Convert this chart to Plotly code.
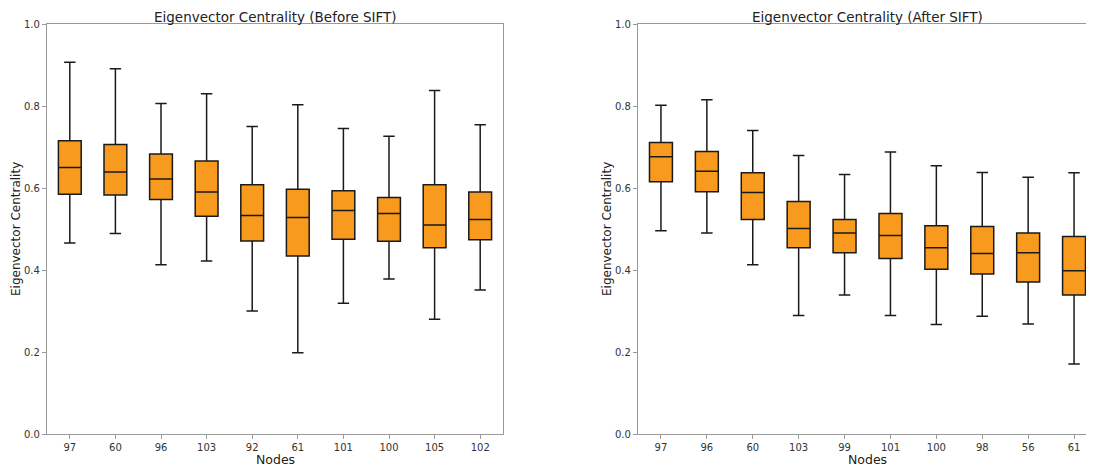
import plotly.graph_objects as go

# ---- data ----
nodes_before = ["97", "60", "96", "103", "92", "61", "101", "100", "105", "102"]
before_low = [0.466, 0.489, 0.413, 0.422, 0.300, 0.198, 0.319, 0.378, 0.280, 0.351]
before_q1 = [0.585, 0.583, 0.572, 0.531, 0.471, 0.434, 0.475, 0.470, 0.454, 0.474]
before_med = [0.650, 0.639, 0.622, 0.590, 0.533, 0.528, 0.545, 0.538, 0.510, 0.523]
before_q3 = [0.715, 0.706, 0.683, 0.666, 0.608, 0.597, 0.593, 0.577, 0.608, 0.590]
before_high = [0.907, 0.891, 0.806, 0.830, 0.750, 0.803, 0.745, 0.726, 0.838, 0.754]

nodes_after = ["97", "96", "60", "103", "99", "101", "100", "98", "56", "61"]
after_low = [0.496, 0.490, 0.413, 0.289, 0.339, 0.289, 0.267, 0.287, 0.268, 0.171]
after_q1 = [0.615, 0.591, 0.523, 0.454, 0.442, 0.428, 0.402, 0.390, 0.371, 0.339]
after_med = [0.676, 0.641, 0.589, 0.501, 0.490, 0.484, 0.454, 0.440, 0.442, 0.398]
after_q3 = [0.711, 0.689, 0.637, 0.567, 0.523, 0.538, 0.508, 0.506, 0.490, 0.482]
after_high = [0.802, 0.815, 0.740, 0.679, 0.633, 0.688, 0.654, 0.638, 0.626, 0.637]

titles = ["Eigenvector Centrality (Before SIFT)", "Eigenvector Centrality (After SIFT)"]
x_label = "Nodes"
y_label = "Eigenvector Centrality"

FILL = "#F79A1E"
EDGE = "#1a1a1a"
SPINE = "#9a9a9a"
TXT = "#333333"
FONT = "DejaVu Sans"

fig = go.Figure()
fig.add_trace(go.Box(
    x=nodes_before, q1=before_q1, median=before_med, q3=before_q3,
    lowerfence=before_low, upperfence=before_high,
    fillcolor=FILL, line=dict(color=EDGE, width=1.5),
    width=0.5, whiskerwidth=0.5, boxpoints=False,
    xaxis="x", yaxis="y", showlegend=False,
))
fig.add_trace(go.Box(
    x=nodes_after, q1=after_q1, median=after_med, q3=after_q3,
    lowerfence=after_low, upperfence=after_high,
    fillcolor=FILL, line=dict(color=EDGE, width=1.5),
    width=0.5, whiskerwidth=0.5, boxpoints=False,
    xaxis="x2", yaxis="y2", showlegend=False,
))

# page body adds an 8px offset; size the figure to fill the rest of the window
W, H = 1086, 462
ml, mr, mt, mb = 39, 0, 16, 36
pw = W - ml - mr
d1 = [0, 456 / pw]
d2 = [591 / pw, 1.0]

common_x = dict(type="category", showline=True, linecolor=SPINE, linewidth=1.3,
                ticks="outside", ticklen=4, tickcolor=SPINE, showgrid=False,
                tickfont=dict(family=FONT, size=10, color=TXT), zeroline=False)
common_y = dict(range=[0, 1], dtick=0.2, tickformat=".1f", showline=True,
                linecolor=SPINE, linewidth=1.3, ticks="outside", ticklen=4,
                tickcolor=SPINE, showgrid=False, zeroline=False,
                tickfont=dict(family=FONT, size=10, color=TXT))

# right panel extends slightly beyond the visible image edge
ext = 3 / 45.9

fig.update_layout(
    width=W, height=H,
    margin=dict(l=ml, r=mr, t=mt, b=mb),
    plot_bgcolor="white", paper_bgcolor="white",
    xaxis=dict(domain=d1, range=[-0.5, 9.5], mirror=True, anchor="y", **common_x),
    yaxis=dict(domain=[0, 1], mirror=True, anchor="x", **common_y),
    xaxis2=dict(domain=d2, range=[-0.5, 9.5 - ext], mirror=True, anchor="y2", **common_x),
    yaxis2=dict(domain=[0, 1], mirror=False, anchor="x2", **common_y),
    font=dict(family=FONT, color=TXT),
)

ann = []
for i, (d, t) in enumerate(zip([d1, d2], titles)):
    cx = (d[0] + d[1]) / 2 if i == 0 else d[0] + (459 / 2) / pw
    ann.append(dict(text=t, xref="paper", yref="paper", x=cx, y=1, yshift=16,
                    xanchor="center", yanchor="top", showarrow=False, borderpad=0,
                    font=dict(family=FONT, size=13.5, color="#222222")))
    ann.append(dict(text=x_label, xref="paper", yref="paper", x=cx, y=0, yshift=-25,
                    xanchor="center", yanchor="middle", showarrow=False,
                    font=dict(family=FONT, size=12.5, color="#222222")))
    ann.append(dict(text=y_label, xref="paper", yref="paper", x=d[0], y=0.5,
                    xshift=-31, textangle=-90, xanchor="center", yanchor="middle",
                    showarrow=False, font=dict(family=FONT, size=12, color="#222222")))
fig.update_layout(annotations=ann)

fig.write_html("out.html")
